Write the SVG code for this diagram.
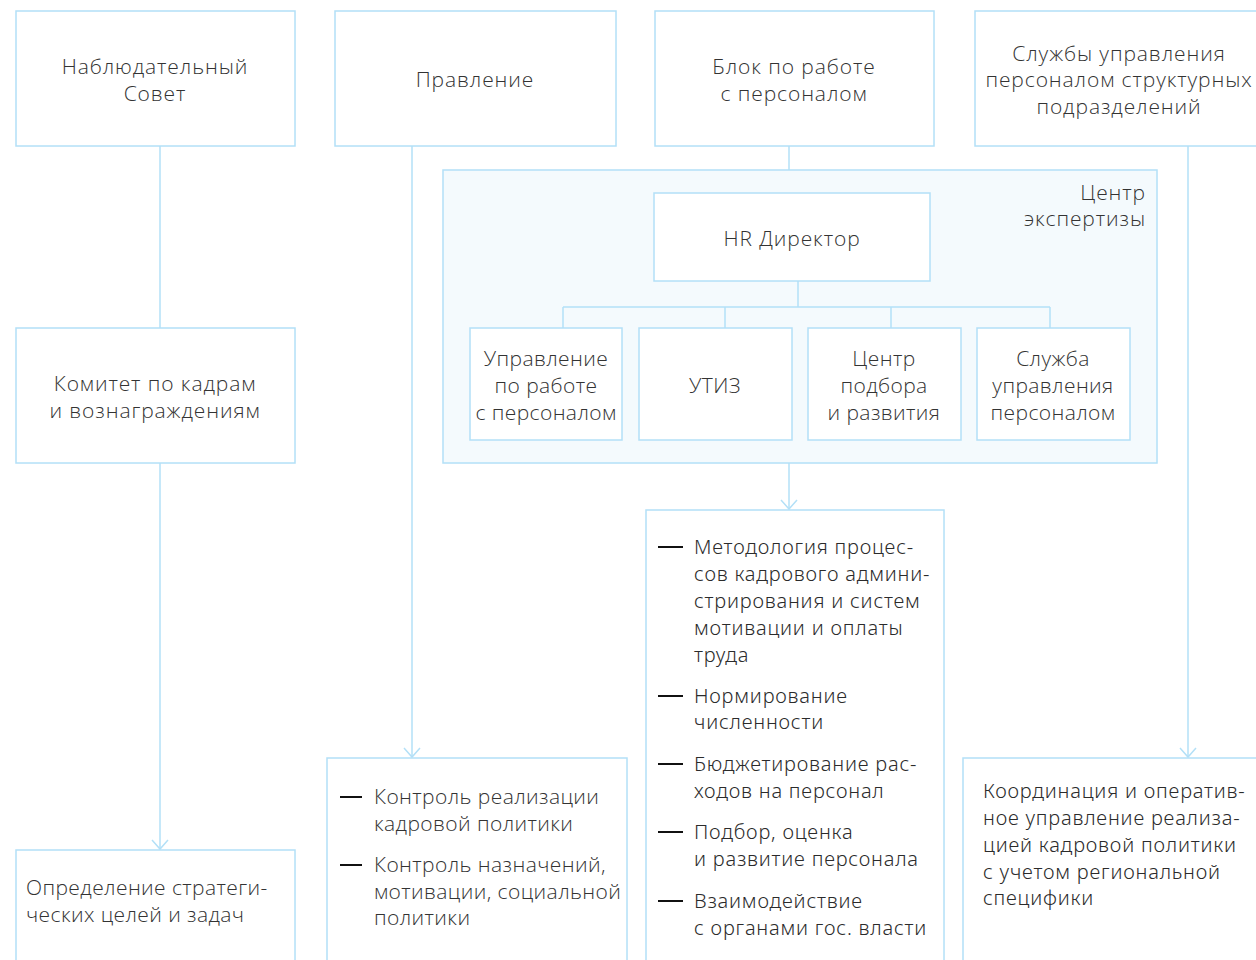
<svg xmlns="http://www.w3.org/2000/svg" width="1256" height="960" viewBox="0 0 1256 960">
<defs>
<style>
.box{fill:#ffffff;stroke:#b3e0f7;stroke-width:1.5}
.panel{fill:#f4fafd;stroke:#b3e0f7;stroke-width:1.5}
.ln{fill:none;stroke:#b3e0f7;stroke-width:1.5}
.t{font-family:"Open Sans","Noto Sans","Liberation Sans",sans-serif;font-size:21px;font-weight:300;fill:#333333;letter-spacing:0.9px}
.s{letter-spacing:0.4px}
.c{text-anchor:middle}
.r{text-anchor:end}
.b{font-family:"Noto Sans","Open Sans","Liberation Sans",sans-serif;font-size:20px;font-weight:300;fill:#2b2b2b;letter-spacing:0.8px}
.dash{stroke:#111111;stroke-width:2}
</style>
<marker id="arr" markerWidth="12" markerHeight="18" refX="10" refY="9" orient="auto" markerUnits="userSpaceOnUse" viewBox="0 0 12 18">
<path d="M1,1 L10,9 L1,17" fill="none" stroke="#b3e0f7" stroke-width="1.5"/>
</marker>
</defs>
<rect width="1256" height="960" fill="#ffffff"/>

<g id="connectors">
<line class="ln" x1="160" y1="146" x2="160" y2="328"/>
<line class="ln" x1="160" y1="463" x2="160" y2="849" marker-end="url(#arr)"/>
<line class="ln" x1="412" y1="146" x2="412" y2="757" marker-end="url(#arr)"/>
<line class="ln" x1="789" y1="146" x2="789" y2="170"/>
<line class="ln" x1="789" y1="463" x2="789" y2="509" marker-end="url(#arr)"/>
<line class="ln" x1="1188" y1="146" x2="1188" y2="757" marker-end="url(#arr)"/>
</g>

<g id="node-nabl">
<rect class="box" x="16" y="11" width="279" height="135"/>
<text class="t c" x="155" y="74">Наблюдательный</text>
<text class="t c" x="155" y="101">Совет</text>
</g>
<g id="node-pravlenie">
<rect class="box" x="335" y="11" width="281" height="135"/>
<text class="t c" x="475" y="87">Правление</text>
</g>
<g id="node-blok">
<rect class="box" x="655" y="11" width="279" height="135"/>
<text class="t c" x="794" y="74">Блок по работе</text>
<text class="t c" x="794" y="101">с персоналом</text>
</g>
<g id="node-sluzhby">
<rect class="box" x="975" y="11" width="290" height="135"/>
<text class="t c" x="1119" y="61">Службы управления</text>
<text class="t c" x="1119" y="87">персоналом структурных</text>
<text class="t c" x="1119" y="114">подразделений</text>
</g>

<g id="node-komitet">
<rect class="box" x="16" y="328" width="279" height="135"/>
<text class="t c" x="155" y="391">Комитет по кадрам</text>
<text class="t c" x="155" y="418">и вознаграждениям</text>
</g>

<g id="node-center">
<rect class="panel" x="443" y="170" width="714" height="293"/>
<text class="t r" x="1146" y="200">Центр</text>
<text class="t r" x="1146" y="226">экспертизы</text>
<g class="ln">
<line x1="798" y1="281" x2="798" y2="307"/>
<line x1="563" y1="307" x2="1050" y2="307"/>
<line x1="563" y1="307" x2="563" y2="328"/>
<line x1="725" y1="307" x2="725" y2="328"/>
<line x1="891" y1="307" x2="891" y2="328"/>
<line x1="1050" y1="307" x2="1050" y2="328"/>
</g>
</g>
<g id="node-hr">
<rect class="box" x="654" y="193" width="276" height="88"/>
<text class="t c" x="792" y="246">HR Директор</text>
</g>
<g id="node-upr">
<rect class="box" x="470" y="328" width="152" height="112"/>
<text class="t s c" x="546" y="366">Управление</text>
<text class="t s c" x="546" y="393">по работе</text>
<text class="t s c" x="546" y="420">с персоналом</text>
</g>
<g id="node-utiz">
<rect class="box" x="639" y="328" width="153" height="112"/>
<text class="t s c" x="715" y="393">УТИЗ</text>
</g>
<g id="node-cpr">
<rect class="box" x="808" y="328" width="153" height="112"/>
<text class="t s c" x="884" y="366">Центр</text>
<text class="t s c" x="884" y="393">подбора</text>
<text class="t s c" x="884" y="420">и развития</text>
</g>
<g id="node-sup">
<rect class="box" x="977" y="328" width="153" height="112"/>
<text class="t s c" x="1053" y="366">Служба</text>
<text class="t s c" x="1053" y="393">управления</text>
<text class="t s c" x="1053" y="420">персоналом</text>
</g>

<g id="node-opred">
<rect class="box" x="16" y="850" width="279" height="120"/>
<text class="t s" x="26" y="895">Определение стратеги-</text>
<text class="t s" x="26" y="922">ческих целей и задач</text>
</g>

<g id="node-kontrol">
<rect class="box" x="327" y="758" width="300" height="212"/>
<line class="dash" x1="340" y1="797" x2="362" y2="797"/>
<text class="t s" x="374" y="804">Контроль реализации</text>
<text class="t s" x="374" y="831">кадровой политики</text>
<line class="dash" x1="340" y1="865" x2="362" y2="865"/>
<text class="t s" x="374" y="872">Контроль назначений,</text>
<text class="t s" x="374" y="899">мотивации, социальной</text>
<text class="t s" x="374" y="925">политики</text>
</g>

<g id="node-metod">
<rect class="box" x="646" y="510" width="298" height="460"/>
<line class="dash" x1="658" y1="547" x2="683" y2="547"/>
<text class="b" x="694" y="554">Методология процес-</text>
<text class="b" x="694" y="581">сов кадрового админи-</text>
<text class="b" x="694" y="608">стрирования и систем</text>
<text class="b" x="694" y="635">мотивации и оплаты</text>
<text class="b" x="694" y="662">труда</text>
<line class="dash" x1="658" y1="696" x2="683" y2="696"/>
<text class="b" x="694" y="703">Нормирование</text>
<text class="b" x="694" y="729">численности</text>
<line class="dash" x1="658" y1="764" x2="683" y2="764"/>
<text class="b" x="694" y="771">Бюджетирование рас-</text>
<text class="b" x="694" y="798">ходов на персонал</text>
<line class="dash" x1="658" y1="832" x2="683" y2="832"/>
<text class="b" x="694" y="839">Подбор, оценка</text>
<text class="b" x="694" y="866">и развитие персонала</text>
<line class="dash" x1="658" y1="901" x2="683" y2="901"/>
<text class="b" x="694" y="908">Взаимодействие</text>
<text class="b" x="694" y="935">с органами гос. власти</text>
</g>

<g id="node-koord">
<rect class="box" x="963" y="758" width="300" height="212"/>
<text class="b" x="983" y="798">Координация и оператив-</text>
<text class="b" x="983" y="825">ное управление реализа-</text>
<text class="b" x="983" y="852">цией кадровой политики</text>
<text class="b" x="983" y="879">с учетом региональной</text>
<text class="b" x="983" y="905">специфики</text>
</g>
</svg>
